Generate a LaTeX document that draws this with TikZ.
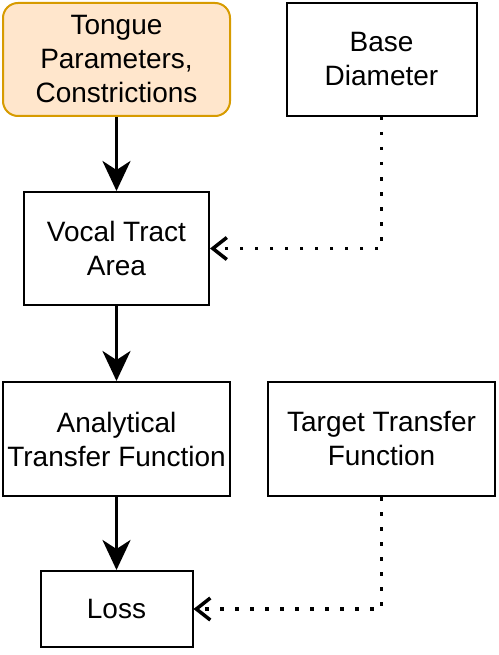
\documentclass[tikz,border=0pt]{standalone}
\usepackage{fontspec}
\setmainfont{Liberation Sans}
\usetikzlibrary{arrows.meta}
\definecolor{tfill}{HTML}{FFE6CC}
\definecolor{tdraw}{HTML}{D79B00}
\tikzset{
  box/.style={draw=black, line width=2pt, fill=white, align=center, inner sep=0pt,
    font=\fontsize{28}{34}\selectfont},
  orangebox/.style={box, draw=tdraw, fill=tfill, rounded corners=15pt},
  solidarrow/.style={line width=3.5pt, -{Stealth[length=30pt,width=28pt,inset=9pt]}},
  dotarrow/.style={line width=3.5pt, dash pattern=on 3.5pt off 11.5pt,
    -{Straight Barb[length=14pt,width=22pt,line width=3.5pt]}}
}
\begin{document}
\begin{tikzpicture}[x=1pt,y=-1pt]
\useasboundingbox (0,0) rectangle (498,655);
\node[orangebox, minimum width=227pt, minimum height=113pt] (tongue) at (116.5,59.5) {Tongue\\Parameters,\\Constrictions};
\node[box, minimum width=190pt, minimum height=113pt] (base) at (381.5,59.5) {Base\\Diameter};
\node[box, minimum width=185pt, minimum height=113pt] (vocal) at (116.5,248.5) {Vocal Tract\\Area};
\node[box, minimum width=227pt, minimum height=114pt] (analytic) at (116.5,439) {Analytical\\Transfer Function};
\node[box, minimum width=227pt, minimum height=114pt] (target) at (381.5,439) {Target Transfer\\Function};
\node[box, minimum width=152pt, minimum height=76pt] (loss) at (116.5,609) {Loss};
\draw[solidarrow] (tongue.south) -- (vocal.north);
\draw[solidarrow] (vocal.south) -- (analytic.north);
\draw[solidarrow] (analytic.south) -- (loss.north);
\draw[dotarrow] (base.south) |- (vocal.east);
\draw[dotarrow] (target.south) |- (loss.east);
\end{tikzpicture}
\end{document}
